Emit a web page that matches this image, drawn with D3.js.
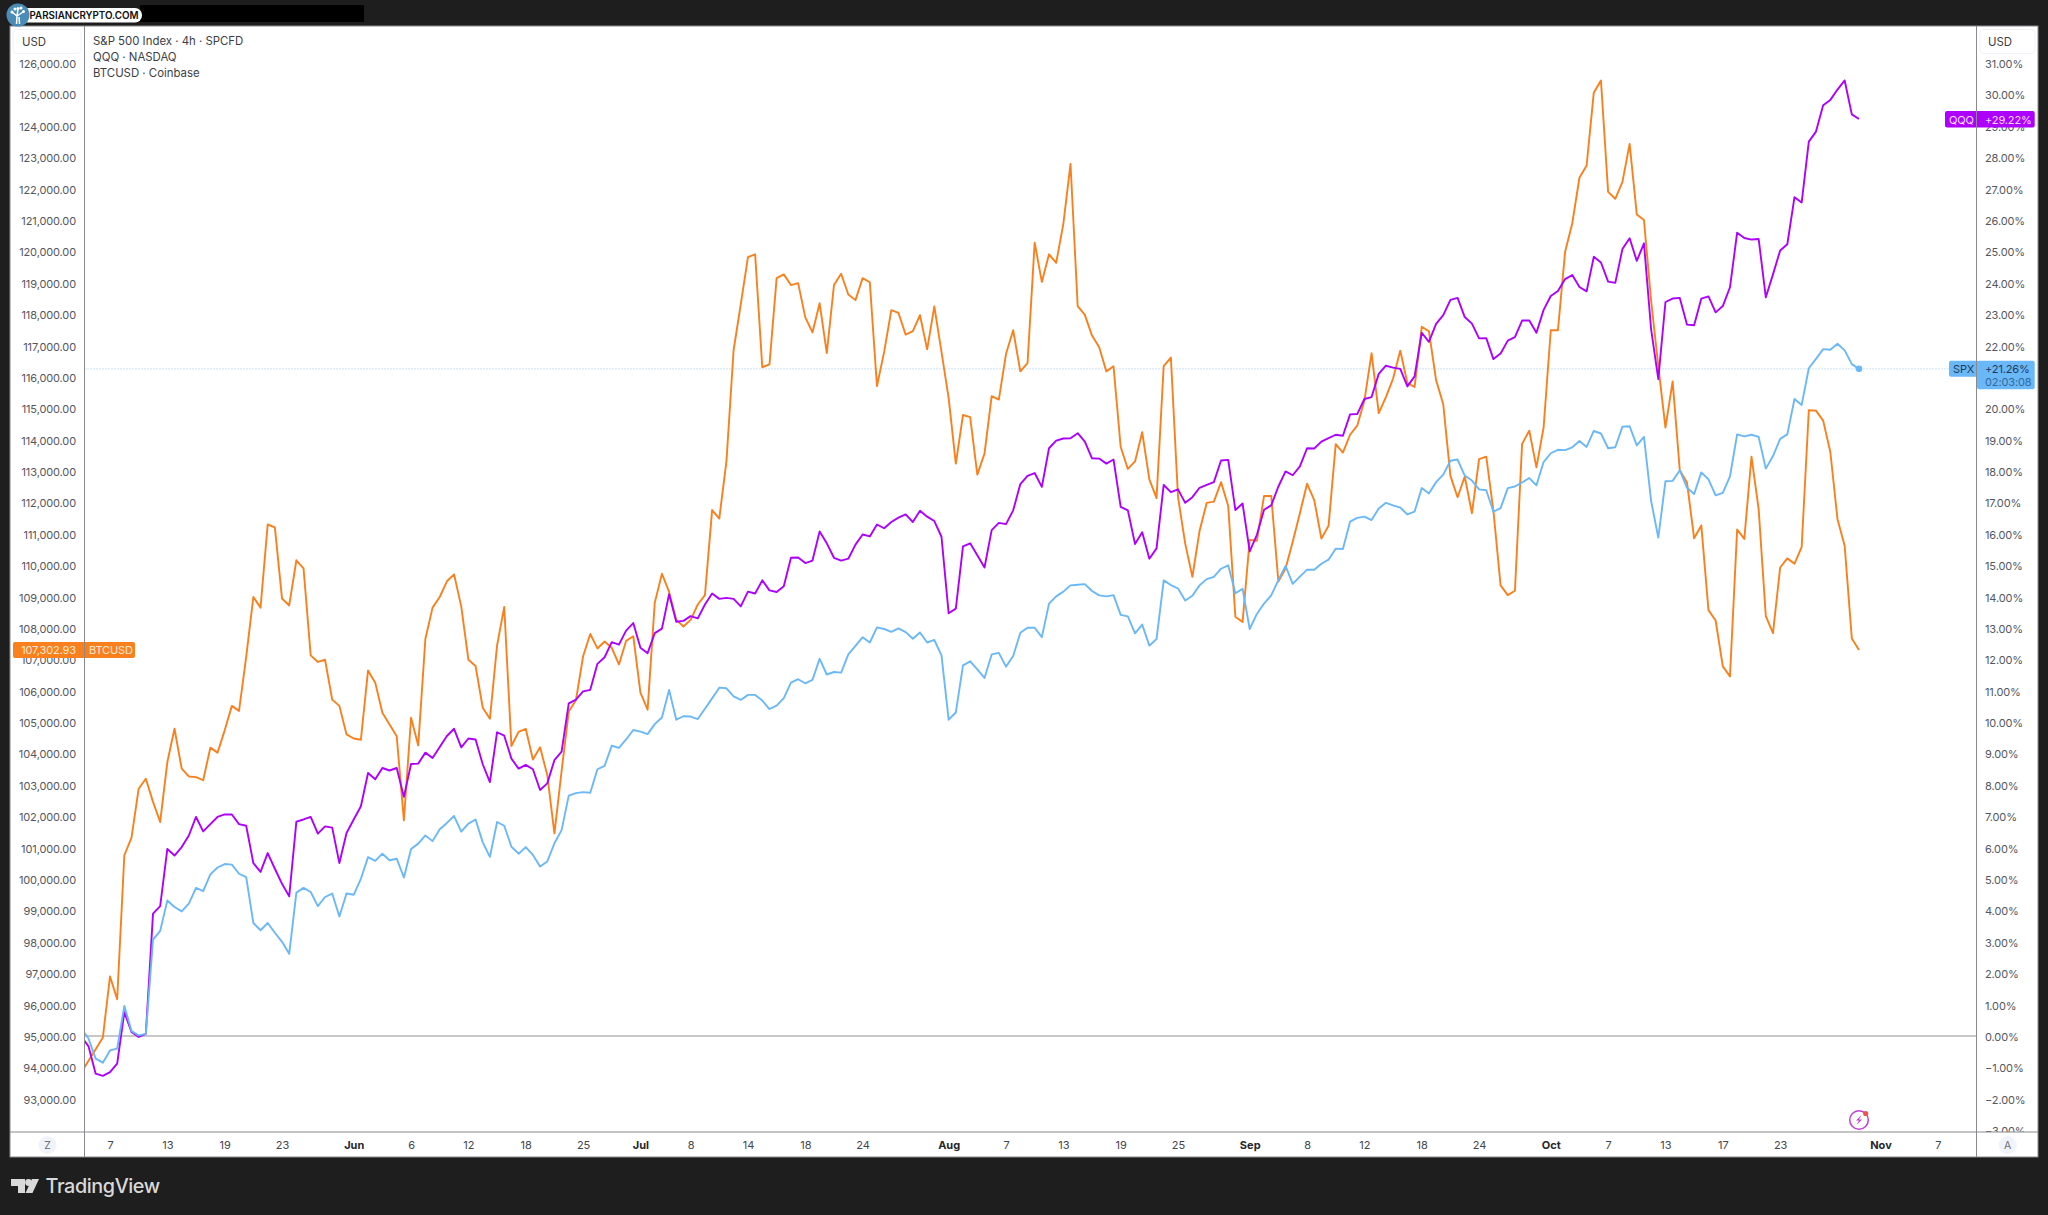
<!DOCTYPE html>
<html>
<head>
<meta charset="utf-8">
<title>SPX QQQ BTCUSD</title>
<script src="https://cdn.jsdelivr.net/npm/d3@7"></script>
<style>
    html, body { margin: 0; padding: 0; background: #1e1e1e; }
    svg { display: block; }
    text { font-family: Inter, "Liberation Sans", sans-serif; }
</style>
</head>
<body>
<div id="chart"></div>
<script>
// BTC close, USD (first bar starts just left of the plot)
const btcUsd = [
    93840,94210,94580,94950,96900,96170,100760,101320,102880,103200,
    102460,101820,103730,104790,103520,103270,103250,103150,104190,104030,
    104740,105520,105360,107080,108990,108650,111300,111210,108940,108720,
    110160,109900,107130,106920,106990,105720,105520,104610,104480,104440,
    106650,106260,105300,104930,104550,101870,105140,104260,107660,108650,
    108990,109490,109710,108690,106990,106790,105460,105110,107450,108670,
    104240,104690,104790,103810,104200,103320,101460,103440,105340,105700,
    107100,107810,107350,107570,107370,106840,107590,107740,105940,105400,
    108810,109730,109150,108260,108050,108260,108750,109050,111760,111490,
    113320,116860,118320,119820,119910,116310,116400,119150,119270,118930,
    118990,117900,117420,118350,116760,118930,119290,118630,118450,119150,
    119020,115710,116800,118130,118040,117350,117460,117970,116880,118250,
    116800,115330,113240,114790,114720,112890,113560,115390,115280,116730,
    117490,116180,116440,120280,119030,119910,119640,120880,122790,118260,
    117980,117320,116950,116180,116340,113770,113070,113310,114240,112740,
    112140,116350,116620,112170,110690,109630,111090,111990,112030,112650,
    111890,108360,108190,110810,110780,112210,112210,109480,109900,110750,
    111660,112600,112080,110850,111260,113860,113590,114160,114450,115250,
    116760,114850,115360,115950,116840,115810,115680,117600,117460,115900,
    115130,112850,112170,112830,111660,113380,113460,111730,109360,109050,
    109190,113870,114290,113120,114390,117490,117490,119990,120900,122350,
    122740,125060,125450,121900,121680,122220,123430,121180,121000,118430,
    116350,114390,115860,113030,112640,110860,111270,108570,108240,106780,
    106460,111140,110840,113460,111790,108380,107840,109930,110220,110050,
    110580,114940,114930,114610,113610,111470,110620,107670,107303
];

// QQQ, percent change
const qqqPct = [
    -0.01,-0.33,-1.20,-1.27,-1.15,-0.88,0.76,0.13,-0.03,0.07,
    3.90,4.14,5.96,5.75,6.02,6.39,6.98,6.52,6.75,6.98,
    7.06,7.06,6.75,6.70,5.51,5.23,5.83,5.33,4.85,4.45,
    6.83,6.90,6.98,6.45,6.68,6.64,5.51,6.47,6.90,7.32,
    8.38,8.18,8.54,8.46,8.54,7.62,8.67,8.68,9.03,8.86,
    9.21,9.56,9.79,9.20,9.48,9.45,8.66,8.09,9.68,9.57,
    8.84,8.52,8.64,8.50,7.84,8.05,8.79,9.06,10.60,10.72,
    10.98,11.03,11.86,12.07,12.55,12.47,12.92,13.16,12.37,12.20,
    12.84,12.98,14.08,13.20,13.23,13.38,13.31,13.75,14.10,13.93,
    13.96,13.93,13.69,14.16,14.10,14.52,14.20,14.15,14.33,15.24,
    15.25,15.07,15.15,16.08,15.70,15.24,15.15,15.21,15.66,15.98,
    15.92,16.30,16.18,16.38,16.52,16.62,16.38,16.74,16.55,16.41,
    15.91,13.47,13.62,15.60,15.70,15.32,14.93,16.12,16.35,16.31,
    16.75,17.59,17.85,17.94,17.50,18.73,18.97,19.04,19.05,19.21,
    18.94,18.41,18.40,18.24,18.37,16.86,16.75,15.68,16.05,15.21,
    15.54,17.56,17.33,17.42,16.99,17.17,17.47,17.56,17.65,18.34,
    18.36,16.76,16.97,15.44,15.97,16.77,16.91,17.51,17.99,17.87,
    18.15,18.73,18.72,18.94,19.05,19.16,19.13,19.81,19.82,20.30,
    20.36,21.10,21.36,21.30,21.26,20.70,21.02,22.41,22.12,22.69,
    22.97,23.46,23.52,22.91,22.70,22.23,22.24,21.57,21.75,22.16,
    22.27,22.80,22.80,22.41,23.14,23.58,23.74,24.12,24.25,23.87,
    23.73,24.83,24.65,24.04,24.00,25.08,25.42,24.70,25.26,22.52,
    20.93,23.39,23.50,23.52,22.67,22.65,23.50,23.57,23.06,23.26,
    23.86,25.60,25.43,25.38,25.40,23.54,24.27,25.03,25.23,26.73,
    26.56,28.50,28.82,29.66,29.83,30.16,30.45,29.37,29.22
];

// SPX, percent change
const spxPct = [
    0.23,-0.08,-0.72,-0.85,-0.46,-0.40,0.96,0.16,0.02,0.07,
    3.07,3.35,4.32,4.11,3.97,4.22,4.72,4.62,5.15,5.37,
    5.48,5.46,5.17,5.06,3.60,3.37,3.60,3.29,3.00,2.62,
    4.57,4.72,4.59,4.14,4.43,4.54,3.81,4.54,4.50,5.01,
    5.70,5.58,5.81,5.60,5.65,5.05,5.96,6.13,6.39,6.21,
    6.59,6.79,7.01,6.51,6.77,6.90,6.17,5.71,6.82,6.70,
    6.03,5.81,6.02,5.77,5.40,5.56,6.14,6.56,7.66,7.74,
    7.77,7.75,8.50,8.61,9.25,9.18,9.45,9.75,9.70,9.62,
    9.94,10.15,11.03,10.08,10.19,10.18,10.10,10.43,10.76,11.10,
    11.08,10.82,10.71,10.87,10.87,10.69,10.42,10.53,10.77,11.26,
    11.37,11.24,11.35,12.02,11.52,11.60,11.58,12.16,12.43,12.71,
    12.54,13.02,12.97,12.88,12.99,12.87,12.66,12.86,12.54,12.62,
    12.13,10.08,10.31,11.81,11.94,11.68,11.41,12.16,12.21,11.77,
    12.11,12.85,13.01,13.01,12.71,13.78,14.01,14.16,14.36,14.38,
    14.40,14.18,14.04,14.01,14.05,13.42,13.37,12.83,13.11,12.44,
    12.65,14.52,14.37,14.26,13.88,14.03,14.36,14.56,14.63,14.89,
    15.00,14.11,14.25,12.97,13.45,13.78,14.04,14.53,14.98,14.41,
    14.64,14.86,14.86,15.05,15.18,15.53,15.52,16.39,16.51,16.55,
    16.44,16.81,16.99,16.91,16.84,16.62,16.71,17.46,17.29,17.65,
    17.89,18.33,18.37,17.86,17.70,17.42,17.39,16.71,16.82,17.46,
    17.51,17.64,17.78,17.55,18.29,18.57,18.68,18.67,18.76,18.96,
    18.77,19.28,19.20,18.73,18.76,19.42,19.43,18.82,19.09,17.05,
    15.88,17.68,17.69,18.03,17.47,17.27,17.96,17.74,17.23,17.31,
    17.83,19.17,19.11,19.16,19.09,18.08,18.48,19.03,19.17,20.30,
    20.11,21.28,21.58,21.89,21.87,22.06,21.85,21.41,21.26
];

// Time axis: bar index of each label
const timeTicks = [3,11,19,27,37,45,53,61,69,77,84,92,100,108,120,128,136,144,152,162,170,178,186,194,204,212,220,228,236,250,258];
const timeLabels = ["7","13","19","23","Jun","6","12","18","25","Jul","8","14","18","24","Aug","7","13","19","25","Sep","8","12","18","24","Oct","7","13","17","23","Nov","7"];
const monthLabels = ["Jun","Jul","Aug","Sep","Oct","Nov"];

const usdTicks = d3.range(93000, 126001, 1000);
// 21.00% sits fully behind the SPX tag, so it is left out
const pctTicks = d3.range(-3, 32, 1).filter(d => d !== 21);
const legendLines = ["S&P 500 Index \u00b7 4h \u00b7 SPCFD", "QQQ \u00b7 NASDAQ", "BTCUSD \u00b7 Coinbase"];

const colors = { btc: "#f9801d", qqq: "#ae00ff", spx: "#6bb8f8" };
const border = "#8a8a8e";

const width = 2048, height = 1215;
const frame = { left: 10, top: 26, right: 2038, bottom: 1157 };
const plot = { left: 84.5, right: 1976.5, top: 26, bottom: 1132 };

const svg = d3.select("#chart").append("svg")
    .attr("width", width)
    .attr("height", height);

// Scales
const x = d3.scaleLinear().domain([0, 247]).range([88.5, 1859]);
const yUsd = d3.scaleLinear().domain([95000, 126000]).range([1036, 63.2]);
const yPct = d3.scaleLinear().domain([0, 31]).range([1036, 63.2]);

const bars = d3.range(-1, 248);

// Chart background
svg.append("rect")
    .attr("x", frame.left).attr("y", frame.top)
    .attr("width", frame.right - frame.left)
    .attr("height", frame.bottom - frame.top)
    .attr("fill", "#fff");

// Price axes
const fmtUsd = d3.format(",.2f");
const leftAxis = svg.append("g")
    .attr("transform", `translate(${plot.left},0)`)
    .call(d3.axisLeft(yUsd).tickValues(usdTicks).tickSize(0).tickPadding(8.5).tickFormat(fmtUsd));
const rightAxis = svg.append("g")
    .attr("transform", `translate(${plot.right},0)`)
    .call(d3.axisRight(yPct).tickValues(pctTicks).tickSize(0).tickPadding(8.5)
        .tickFormat(d => (d < 0 ? "\u2212" : "") + Math.abs(d).toFixed(2) + "%"));
[leftAxis, rightAxis].forEach(a => {
    a.select(".domain").remove();
    a.attr("font-family", null).attr("font-size", null);
    a.selectAll("text")
        .attr("font-size", 11)
        .attr("letter-spacing", -0.12)
        .attr("dy", "0.4em")
        .attr("fill", "#55575f");
});

// Plot clip
svg.append("clipPath").attr("id", "plotClip").append("rect")
    .attr("x", plot.left).attr("y", plot.top)
    .attr("width", plot.right - plot.left)
    .attr("height", plot.bottom - plot.top);
const plotArea = svg.append("g").attr("clip-path", "url(#plotClip)");

// Zero line and last price line
plotArea.append("line")
    .attr("x1", plot.left).attr("x2", plot.right)
    .attr("y1", yPct(0)).attr("y2", yPct(0))
    .attr("stroke", "#8f8f93").attr("stroke-width", 1);
plotArea.append("line")
    .attr("x1", plot.left).attr("x2", plot.right)
    .attr("y1", yPct(spxPct[spxPct.length - 1])).attr("y2", yPct(spxPct[spxPct.length - 1]))
    .attr("stroke", colors.spx).attr("stroke-width", 1)
    .attr("stroke-dasharray", "1 2").attr("opacity", 0.75);

// Series lines, BTC at the back
const seriesLine = yScale => d3.line()
    .x((d, i) => x(bars[i]))
    .y(d => yScale(d));
const seriesList = [
    { values: btcUsd, scale: yUsd, color: colors.btc },
    { values: qqqPct, scale: yPct, color: colors.qqq },
    { values: spxPct, scale: yPct, color: colors.spx }
];
plotArea.selectAll("path.series")
    .data(seriesList)
    .enter()
    .append("path")
    .attr("class", "series")
    .attr("d", d => seriesLine(d.scale)(d.values))
    .attr("fill", "none")
    .attr("stroke", d => d.color)
    .attr("stroke-width", 1.9)
    .attr("stroke-linejoin", "round");

// Live dot on SPX
plotArea.append("circle")
    .attr("cx", x(247))
    .attr("cy", yPct(spxPct[spxPct.length - 1]))
    .attr("r", 3.3)
    .attr("fill", colors.spx);

// Legend text
svg.selectAll("text.legend")
    .data(legendLines)
    .enter()
    .append("text")
    .attr("class", "legend")
    .attr("x", 93)
    .attr("y", (d, i) => 44.5 + i * 16)
    .attr("font-size", 11.4)
    .attr("fill", "#3c3e46")
    .text(d => d);

// Time axis panel
svg.append("rect")
    .attr("x", frame.left).attr("y", plot.bottom)
    .attr("width", frame.right - frame.left)
    .attr("height", frame.bottom - plot.bottom)
    .attr("fill", "#fff");
const timeAxis = svg.append("g")
    .attr("transform", `translate(0,${plot.bottom})`)
    .call(d3.axisBottom(x).tickValues(timeTicks).tickSize(0).tickPadding(9)
        .tickFormat((d, i) => timeLabels[i]));
timeAxis.select(".domain").remove();
timeAxis.attr("font-family", null).attr("font-size", null);
timeAxis.selectAll("text")
    .attr("font-size", 11)
    .attr("fill", "#44464e")
    .filter((d, i) => monthLabels.includes(timeLabels[i]))
    .attr("font-weight", 700)
    .attr("fill", "#26272c");

// Panel borders
const lines = [
    [plot.left, frame.top, plot.left, frame.bottom],
    [plot.right, frame.top, plot.right, frame.bottom],
    [frame.left, plot.bottom, frame.right, plot.bottom]
];
svg.selectAll("line.grid")
    .data(lines)
    .enter()
    .append("line")
    .attr("class", "grid")
    .attr("x1", d => d[0]).attr("y1", d => d[1])
    .attr("x2", d => d[2]).attr("y2", d => d[3])
    .attr("stroke", border).attr("stroke-width", 1);
svg.append("rect")
    .attr("x", frame.left).attr("y", frame.top)
    .attr("width", frame.right - frame.left)
    .attr("height", frame.bottom - frame.top)
    .attr("fill", "none")
    .attr("stroke", border).attr("stroke-width", 1);

// USD boxes above the axes
[[13, 68, 22], [1980, 55, 1988]].forEach(p => {
    svg.append("rect")
        .attr("x", p[0]).attr("y", 29.5)
        .attr("width", p[1]).attr("height", 24).attr("rx", 4)
        .attr("fill", "#fff").attr("stroke", "#f0f3fa");
    svg.append("text")
        .attr("x", p[2]).attr("y", 45.5)
        .attr("font-size", 11.4).attr("fill", "#3c3e46")
        .text("USD");
});

// Z and A buttons
[["Z", 47.5], ["A", 2007.7]].forEach(b => {
    svg.append("circle").attr("cx", b[1]).attr("cy", 1145).attr("r", 9).attr("fill", "#f0f3fa");
    svg.append("text")
        .attr("x", b[1]).attr("y", 1149)
        .attr("text-anchor", "middle")
        .attr("font-size", 10.5).attr("fill", "#6a6d78")
        .text(b[0]);
});

// Price tags
function tag(xPos, yPos, w, h, color) {
    svg.append("rect")
        .attr("x", xPos).attr("y", yPos)
        .attr("width", w).attr("height", h).attr("rx", 2)
        .attr("fill", color);
}
function tagText(str, xPos, yPos, color, anchor) {
    svg.append("text")
        .attr("x", xPos).attr("y", yPos)
        .attr("font-size", 11)
        .attr("letter-spacing", -0.12)
        .attr("text-anchor", anchor || "start")
        .attr("fill", color)
        .text(str);
}

// BTCUSD tag
const btcY = yUsd(btcUsd[btcUsd.length - 1]);
tag(13, btcY - 8, 122, 16, colors.btc);
tagText(fmtUsd(107302.93), 76, btcY + 4, "#ffe9d6", "end");
tagText("BTCUSD", 89, btcY + 4, "#ffe9d6");

// QQQ tag
const qqqY = yPct(qqqPct[qqqPct.length - 1]);
tag(1945, qqqY - 8, 89.7, 16.5, colors.qqq);
tagText("QQQ", 1949, qqqY + 4.5, "#f5dcff");
tagText("+29.22%", 1985, qqqY + 4.5, "#f5dcff");

// SPX tag
const spxY = yPct(spxPct[spxPct.length - 1]);
tag(1949, spxY - 8, 30, 16, colors.spx);
tag(1977, spxY - 8, 57.7, 28.3, colors.spx);
tagText("SPX", 1953, spxY + 4, "#1d3c58");
tagText("+21.26%", 1985, spxY + 4, "#1d3c58");
tagText("02:03:08", 1985, spxY + 17, "#2f6a98");

// Divider over the tags
svg.selectAll("line.divider")
    .data([plot.left, plot.right])
    .enter()
    .append("line")
    .attr("class", "divider")
    .attr("x1", d => d).attr("x2", d => d)
    .attr("y1", frame.top).attr("y2", 700)
    .attr("stroke", border).attr("stroke-width", 1);

// Bolt icon
const bolt = svg.append("g").attr("transform", "translate(1859,1120)");
bolt.append("circle").attr("r", 9.3).attr("fill", "#fff")
    .attr("stroke", "#c23fd6").attr("stroke-width", 1.5);
bolt.append("path")
    .attr("d", "M2.5,-5 L-3,0.5 L0,0.5 L-2.5,5 L3,-0.5 L0,-0.5 Z")
    .attr("fill", "#c23fd6");
bolt.append("circle").attr("cx", 6.7).attr("cy", -6.5).attr("r", 2.6).attr("fill", "#ef5350");

// Header: blacked out bar and watermark
svg.append("rect").attr("x", 140).attr("y", 5).attr("width", 224).attr("height", 17).attr("fill", "#000");
svg.append("rect")
    .attr("x", 20).attr("y", 8).attr("width", 122).attr("height", 14.5).attr("rx", 7)
    .attr("fill", "#fff");
svg.append("text")
    .attr("x", 29.5).attr("y", 19.3)
    .attr("font-size", 9.8).attr("font-weight", 600)
    .attr("fill", "#101010")
    .text("PARSIANCRYPTO.COM");
const logo = svg.append("g").attr("transform", "translate(18,15)");
logo.append("circle").attr("r", 11.5).attr("fill", "#4a8cb8");
logo.append("path")
    .attr("d", "M-1.5,9 L-1,1 L-6,-3 M-1,1 L0,-6 M-1,1 L5,-3 M1.5,9 L1,2")
    .attr("fill", "none").attr("stroke", "#fff").attr("stroke-width", 1.5);
[[-6, -3], [0, -6.5], [5.5, -3.5], [-3, -6], [3, -7]].forEach(p => {
    logo.append("circle").attr("cx", p[0]).attr("cy", p[1]).attr("r", 1.5).attr("fill", "#fff");
});

// TradingView footer
const footer = svg.append("g").attr("fill", "#d9d9d9");
footer.append("path")
    .attr("d", "M11,1179 H25 V1193 H18 V1186 H11 Z M39,1179 L32.5,1193 H25.5 L32,1179 Z");
footer.append("circle").attr("cx", 28.5).attr("cy", 1182.5).attr("r", 3.4);
footer.append("text")
    .attr("x", 45.5).attr("y", 1193)
    .attr("font-size", 19.8)
    .attr("font-weight", 500)
    .attr("letter-spacing", -0.4)
    .text("TradingView");
</script>
</body>
</html>
